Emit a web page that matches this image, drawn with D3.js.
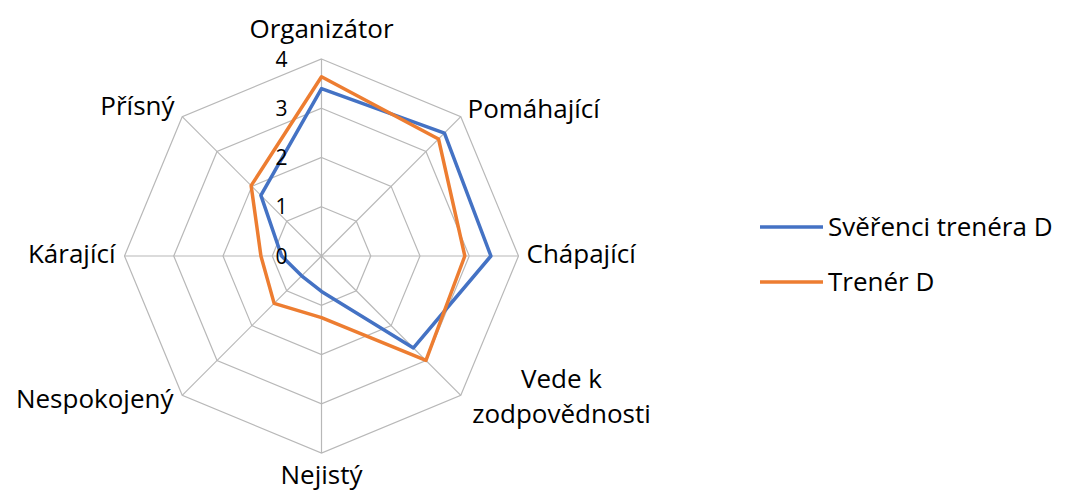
<!DOCTYPE html>
<html>
  <head>
    <meta charset="utf-8" />
    <style>
      body {
        margin: 0;
        background: #fff;
        font-family: 'Open Sans', 'Liberation Sans', sans-serif;
      }
    </style>
    <script src="https://d3js.org/d3.v7.min.js"></script>
  </head>
  <body>
    <svg id="chart" width="1066" height="495"></svg>
    <script>
      var categories = [
        'Organizátor',
        'Pomáhající',
        'Chápající',
        'Vede k zodpovědnosti',
        'Nejistý',
        'Nespokojený',
        'Kárající',
        'Přísný',
      ];
      var sverenci = [3.4, 3.53, 3.44, 2.64, 0.72, 0.57, 0.81, 1.74];
      var trener = [3.64, 3.36, 2.91, 3.0, 1.25, 1.36, 1.23, 2.02];
      var ticks = [0, 1, 2, 3, 4];
      var seriesNames = ['Svěřenci trenéra D', 'Trenér D'];
      var colors = ['#4472C4', '#ED7D31'];

      var svg = d3.select('#chart');
      var cx = 321.5,
        cy = 256,
        radius = 197;

      var r = d3.scaleLinear().domain([0, 4]).range([0, radius]);
      var angle = d3
        .scaleLinear()
        .domain([0, categories.length])
        .range([0, 2 * Math.PI]);

      var g = svg.append('g').attr('transform', `translate(${cx},${cy})`);

      // rings
      var ring = d3
        .lineRadial()
        .angle((d, i) => angle(i))
        .radius((d) => r(d))
        .curve(d3.curveLinearClosed);

      g.selectAll('.ring')
        .data(ticks.slice(1))
        .join('path')
        .attr('class', 'ring')
        .attr('d', (t) => ring(categories.map(() => t)))
        .attr('fill', 'none')
        .attr('stroke', '#b8b8b8')
        .attr('stroke-width', 1.2);

      // spokes
      g.selectAll('.spoke')
        .data(categories)
        .join('line')
        .attr('class', 'spoke')
        .attr('x1', 0)
        .attr('y1', 0)
        .attr('x2', (d, i) => r(4) * Math.sin(angle(i)))
        .attr('y2', (d, i) => -r(4) * Math.cos(angle(i)))
        .attr('stroke', '#b8b8b8')
        .attr('stroke-width', 1.2);

      // series
      [sverenci, trener].forEach(function (s, k) {
        g.append('path')
          .attr('d', ring(s))
          .attr('fill', 'none')
          .attr('stroke', colors[k])
          .attr('stroke-width', 3.5)
          .attr('stroke-linejoin', 'round');
      });

      // tick labels
      g.selectAll('.tick')
        .data(ticks)
        .join('text')
        .attr('class', 'tick')
        .attr('x', -34)
        .attr('y', (d) => -r(d))
        .attr('dy', '0.36em')
        .attr('text-anchor', 'end')
        .attr('font-size', 21)
        .attr('fill', '#000')
        .text((d) => d);

      // category labels
      var labelPos = [
        { x: 0, y: -218, anchor: 'middle' },
        { x: 146, y: -138, anchor: 'start' },
        { x: 205, y: 7, anchor: 'start' },
        { x: 240, y: 132, anchor: 'middle' },
        { x: 0, y: 228, anchor: 'middle' },
        { x: -148, y: 152, anchor: 'end' },
        { x: -206, y: 7, anchor: 'end' },
        { x: -147, y: -141, anchor: 'end' },
      ];
      var labels = g
        .selectAll('.cat')
        .data(categories)
        .join('text')
        .attr('class', 'cat')
        .attr('x', (d, i) => labelPos[i].x)
        .attr('y', (d, i) => labelPos[i].y)
        .attr('text-anchor', (d, i) => labelPos[i].anchor)
        .attr('font-size', 26)
        .attr('fill', '#000');
      labels.each(function (d, i) {
        var parts = i === 3 ? ['Vede k', 'zodpovědnosti'] : [d];
        d3.select(this)
          .selectAll('tspan')
          .data(parts)
          .join('tspan')
          .attr('x', labelPos[i].x)
          .attr('dy', (p, j) => (j === 0 ? 0 : 35))
          .text((p) => p);
      });

      // legend
      var legend = svg
        .append('g')
        .attr('transform', 'translate(760,227)');
      legend
        .selectAll('g')
        .data(seriesNames)
        .join('g')
        .attr('transform', (d, i) => `translate(0,${i * 55})`)
        .each(function (d, i) {
          var lg = d3.select(this);
          lg.append('line')
            .attr('x1', 0)
            .attr('x2', 63)
            .attr('stroke', colors[i])
            .attr('stroke-width', 3.5);
          lg.append('text')
            .attr('x', 68)
            .attr('dy', '0.36em')
            .attr('font-size', 26)
            .text(d);
        });
    </script>
  </body>
</html>
